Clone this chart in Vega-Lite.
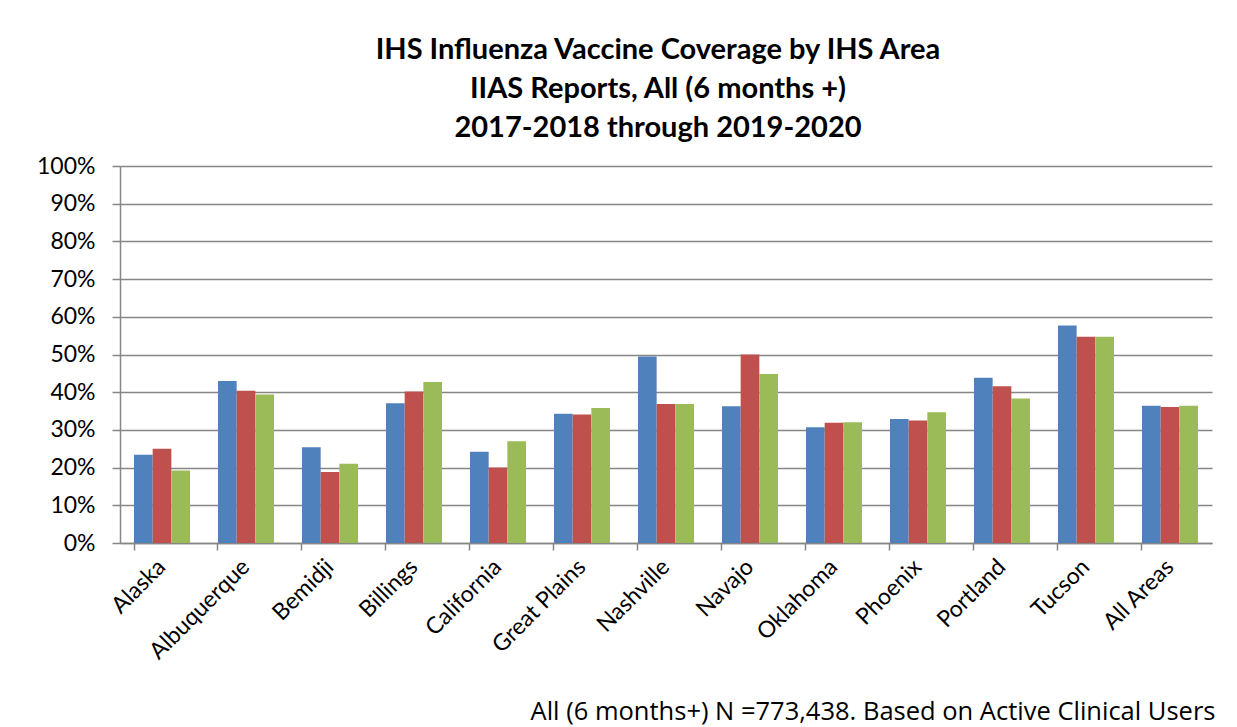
{
  "$schema": "https://vega.github.io/schema/vega-lite/v6.json",
  "description": "IHS Influenza Vaccine Coverage by IHS Area, 2017-2018 through 2019-2020.",
  "autosize": "none",
  "width": 1092,
  "height": 377,
  "padding": {"left": 120, "top": 166, "right": 25, "bottom": 184},
  "background": "white",
  "title": {
    "text": ["IHS Influenza Vaccine Coverage by IHS Area", "IIAS Reports, All (6 months +)", "2017-2018 through 2019-2020"],
    "font": "Lato",
    "fontSize": 29,
    "fontWeight": "bold",
    "color": "black",
    "lineHeight": 39,
    "anchor": "middle",
    "dx": -8,
    "offset": 12
  },
  "data": {
    "values": [
      {"Area": "Alaska", "Season": "2017-2018", "Coverage": 0.234},
      {"Area": "Alaska", "Season": "2018-2019", "Coverage": 0.250},
      {"Area": "Alaska", "Season": "2019-2020", "Coverage": 0.192},
      {"Area": "Albuquerque", "Season": "2017-2018", "Coverage": 0.430},
      {"Area": "Albuquerque", "Season": "2018-2019", "Coverage": 0.404},
      {"Area": "Albuquerque", "Season": "2019-2020", "Coverage": 0.394},
      {"Area": "Bemidji", "Season": "2017-2018", "Coverage": 0.254},
      {"Area": "Bemidji", "Season": "2018-2019", "Coverage": 0.188},
      {"Area": "Bemidji", "Season": "2019-2020", "Coverage": 0.210},
      {"Area": "Billings", "Season": "2017-2018", "Coverage": 0.371},
      {"Area": "Billings", "Season": "2018-2019", "Coverage": 0.402},
      {"Area": "Billings", "Season": "2019-2020", "Coverage": 0.427},
      {"Area": "California", "Season": "2017-2018", "Coverage": 0.242},
      {"Area": "California", "Season": "2018-2019", "Coverage": 0.200},
      {"Area": "California", "Season": "2019-2020", "Coverage": 0.270},
      {"Area": "Great Plains", "Season": "2017-2018", "Coverage": 0.343},
      {"Area": "Great Plains", "Season": "2018-2019", "Coverage": 0.341},
      {"Area": "Great Plains", "Season": "2019-2020", "Coverage": 0.358},
      {"Area": "Nashville", "Season": "2017-2018", "Coverage": 0.495},
      {"Area": "Nashville", "Season": "2018-2019", "Coverage": 0.369},
      {"Area": "Nashville", "Season": "2019-2020", "Coverage": 0.369},
      {"Area": "Navajo", "Season": "2017-2018", "Coverage": 0.363},
      {"Area": "Navajo", "Season": "2018-2019", "Coverage": 0.500},
      {"Area": "Navajo", "Season": "2019-2020", "Coverage": 0.448},
      {"Area": "Oklahoma", "Season": "2017-2018", "Coverage": 0.307},
      {"Area": "Oklahoma", "Season": "2018-2019", "Coverage": 0.319},
      {"Area": "Oklahoma", "Season": "2019-2020", "Coverage": 0.320},
      {"Area": "Phoenix", "Season": "2017-2018", "Coverage": 0.329},
      {"Area": "Phoenix", "Season": "2018-2019", "Coverage": 0.325},
      {"Area": "Phoenix", "Season": "2019-2020", "Coverage": 0.347},
      {"Area": "Portland", "Season": "2017-2018", "Coverage": 0.438},
      {"Area": "Portland", "Season": "2018-2019", "Coverage": 0.416},
      {"Area": "Portland", "Season": "2019-2020", "Coverage": 0.383},
      {"Area": "Tucson", "Season": "2017-2018", "Coverage": 0.577},
      {"Area": "Tucson", "Season": "2018-2019", "Coverage": 0.547},
      {"Area": "Tucson", "Season": "2019-2020", "Coverage": 0.547},
      {"Area": "All Areas", "Season": "2017-2018", "Coverage": 0.364},
      {"Area": "All Areas", "Season": "2018-2019", "Coverage": 0.361},
      {"Area": "All Areas", "Season": "2019-2020", "Coverage": 0.364}
    ]
  },
  "mark": {"type": "bar"},
  "encoding": {
    "x": {
      "field": "Area",
      "type": "nominal",
      "sort": null,
      "scale": {"paddingInner": 0.333, "paddingOuter": 0.1667},
      "axis": {
        "title": "All (6 months+) N =773,438. Based on Active Clinical Users",
        "titleFont": "Open Sans",
        "titleFontSize": 25.5,
        "titleFontWeight": "normal",
        "titleColor": "black",
        "titleAnchor": "end",
        "titleAlign": "right",
        "titleBaseline": "alphabetic",
        "titleX": 1095,
        "titleY": 176,
        "labelAngle": -45,
        "labelAlign": "right",
        "labelBaseline": "middle",
        "labelFont": "Lato",
        "labelFontSize": 23,
        "labelColor": "black",
        "labelPadding": 13,
        "bandPosition": 0,
        "tickSize": 7,
        "tickColor": "#868686",
        "tickWidth": 1.5,
        "domainColor": "#868686",
        "domainWidth": 1.5,
        "grid": false
      }
    },
    "xOffset": {
      "field": "Season",
      "type": "nominal",
      "scale": {"paddingInner": 0, "paddingOuter": 0}
    },
    "y": {
      "field": "Coverage",
      "type": "quantitative",
      "scale": {"domain": [0, 1]},
      "axis": {
        "title": null,
        "format": ".0%",
        "values": [0, 0.1, 0.2, 0.3, 0.4, 0.5, 0.6, 0.7, 0.8, 0.9, 1],
        "labelFont": "Lato",
        "labelFontSize": 23,
        "labelColor": "black",
        "labelPadding": 17,
        "tickSize": 8,
        "tickColor": "#868686",
        "tickWidth": 1.5,
        "domainColor": "#868686",
        "domainWidth": 1.5,
        "gridColor": "#868686",
        "gridWidth": 1.5
      }
    },
    "color": {
      "field": "Season",
      "type": "nominal",
      "scale": {"range": ["#4F81BD", "#C0504D", "#9BBB59"]},
      "legend": null
    },
    "tooltip": [
      {"field": "Area"},
      {"field": "Season"},
      {"field": "Coverage", "format": ".1%"}
    ]
  },
  "config": {
    "view": {"stroke": null}
  }
}
